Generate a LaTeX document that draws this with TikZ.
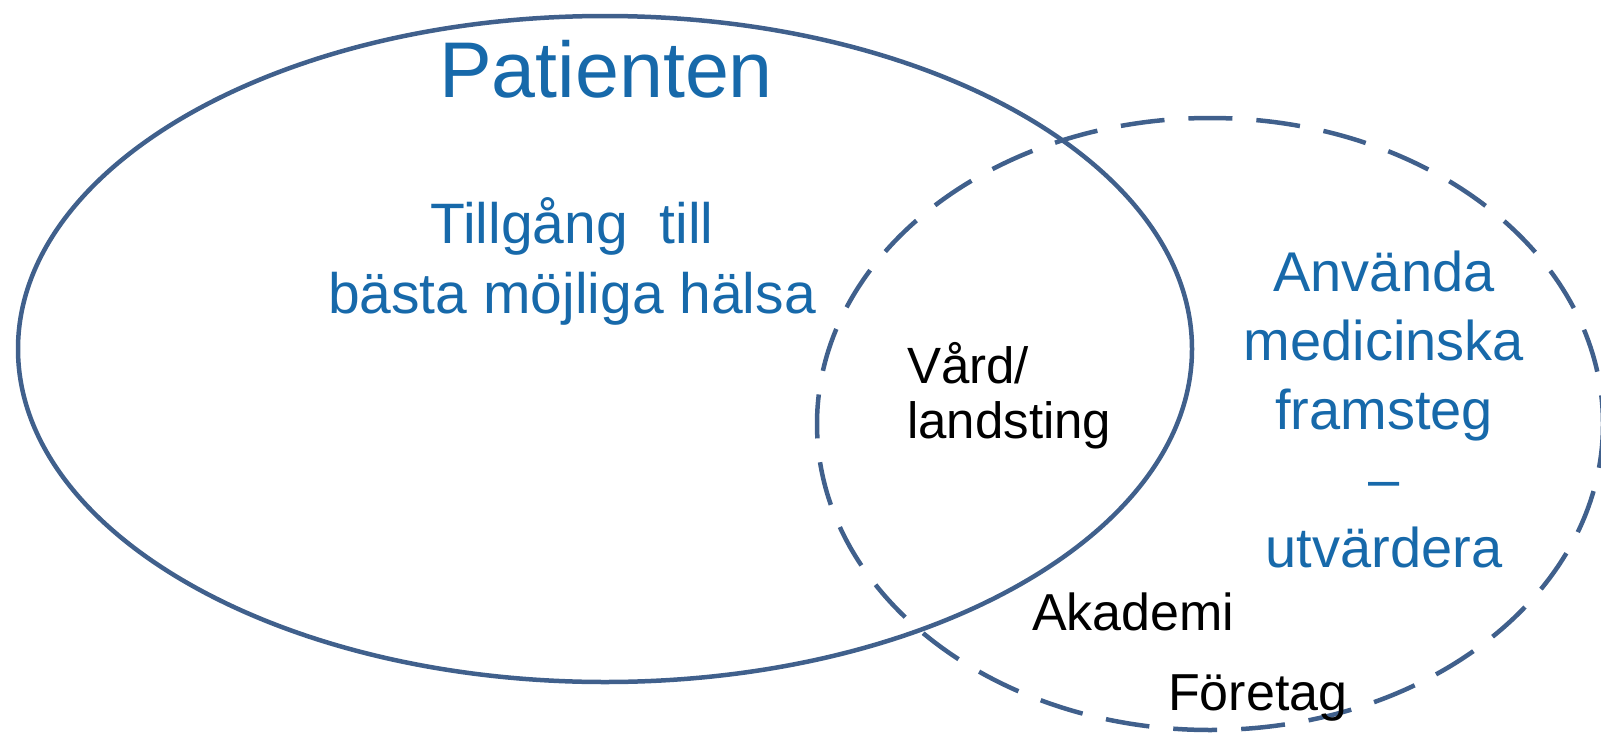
\documentclass[tikz,border=0pt]{standalone}
\usepackage{fontspec}
\setmainfont{Liberation Sans}
\usepackage{tikz}
\usepackage{xcolor}
\definecolor{ringblue}{RGB}{64,96,140}
\definecolor{textblue}{RGB}{23,105,170}
\tikzset{
    venn-ring/.style = {draw=ringblue, line width=4.5pt, fill=none},
    venn-dashed/.style = {venn-ring, dash pattern=on 44pt off 24pt},
    blue-label/.style = {text=textblue, inner sep=0pt, align=center},
    black-label/.style = {text=black, inner sep=0pt, align=left},
}

\begin{document}
\begin{tikzpicture}[x=1pt, y=-1pt]
\useasboundingbox (0,0) rectangle (1601,736);
\clip (0,0) rectangle (1601,736);
% the two circles
\draw[venn-ring] (605,349) ellipse [x radius=587, y radius=333];
\draw[venn-dashed] (1210,424) ellipse [x radius=393, y radius=306];
% texts (anchor base = last line)
\node[blue-label, anchor=base, font=\fontsize{79}{90}\selectfont] (patient) at (606,97) {Patienten};
\node[blue-label, anchor=base, font=\fontsize{57}{70}\selectfont] (access) at (572,313) {Tillgång\ \ till\\bästa möjliga hälsa};
\node[black-label, anchor=base west, font=\fontsize{51}{55}\selectfont] (care) at (907,438) {Vård/\\landsting};
\node[blue-label, anchor=base, font=\fontsize{56}{69}\selectfont] (progress) at (1384,567) {Använda\\medicinska\\framsteg\\–\\utvärdera};
\node[black-label, anchor=base west, font=\fontsize{52}{60}\selectfont] (academy) at (1032,630) {Akademi};
\node[black-label, anchor=base west, font=\fontsize{52}{60}\selectfont] (company) at (1168,710) {Företag};
\end{tikzpicture}
\end{document}
